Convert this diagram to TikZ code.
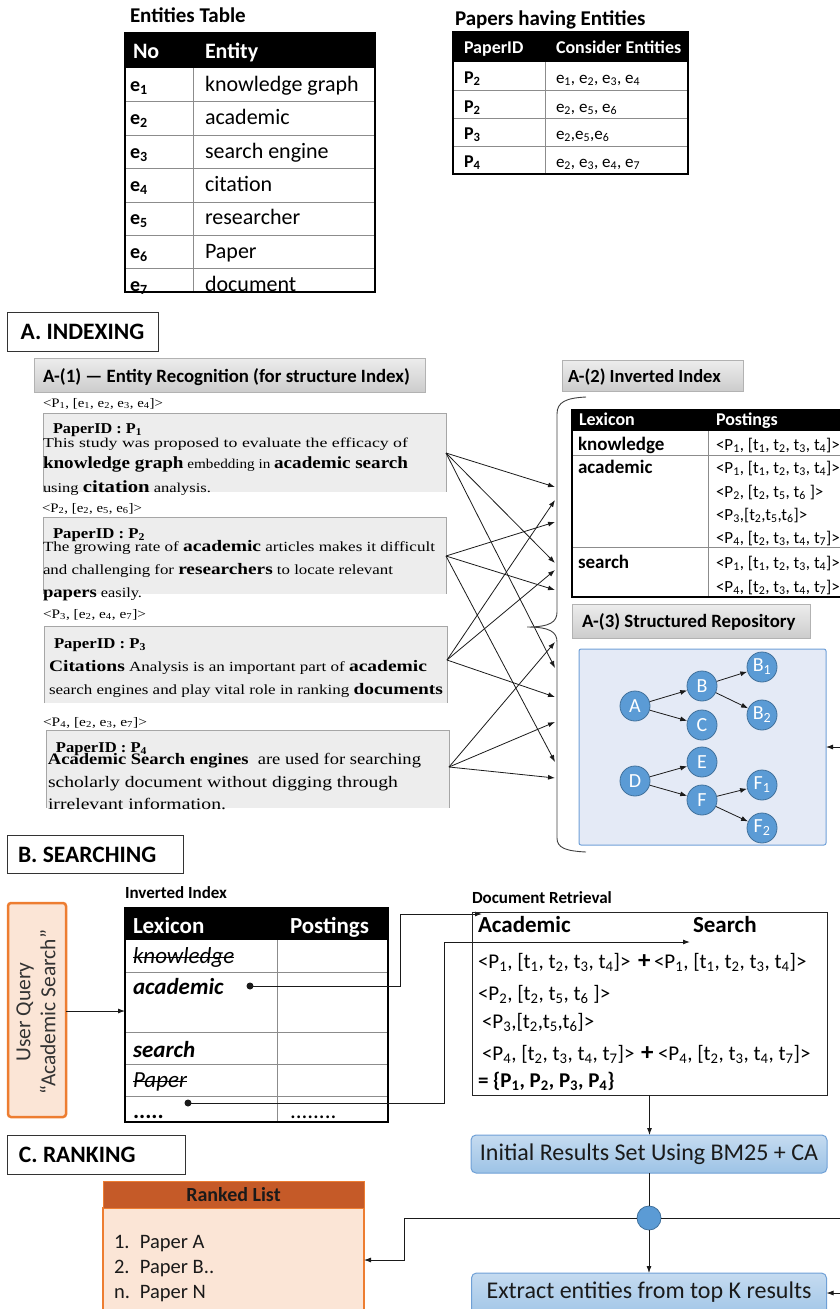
\documentclass[tikz,border=0pt]{standalone}
\usepackage{graphicx}
\usepackage{fontspec}
\setmainfont{Carlito}
\newfontfamily\pf{Liberation Serif}
\usetikzlibrary{arrows.meta,calc}
\newcommand\sbs[1]{\textsubscript{#1}}
\newcommand\fitw[2]{\resizebox{#1pt}{\height}{#2}}
\newcommand\fs[1]{\fontsize{#1}{#1}\selectfont}
\definecolor{tgray}{HTML}{8C8C8C}
\definecolor{pbox}{HTML}{EDEDED}
\definecolor{pedge}{HTML}{A6A6A6}
\definecolor{repofill}{HTML}{E4EAF6}
\definecolor{repoedge}{HTML}{6FA0D8}
\definecolor{nodefill}{HTML}{5B9BD5}
\definecolor{nodeedge}{HTML}{41719C}
\definecolor{orfill}{HTML}{FBE5D6}
\definecolor{oredge}{HTML}{ED7D31}
\definecolor{orhead}{HTML}{C55A28}
\definecolor{blutop}{HTML}{C5DBF0}
\definecolor{blubot}{HTML}{9DC3E6}
\definecolor{bluedge}{HTML}{6FA0D6}
\definecolor{ink}{HTML}{1A1A1A}
\begin{document}
\begin{tikzpicture}[x=1pt,y=-1pt,
  txt/.style={anchor=base west,inner sep=0pt,outer sep=0pt},
  rect/.style={inner sep=0pt,outer sep=0pt},
  ghead/.style={rect,draw=gray!60,top color=gray!14,bottom color=gray!40},
  secbox/.style={rect,draw=black!80,line width=1pt,fill=white},
  arr/.style={-{Latex[length=7pt,width=5pt]},line width=0.8pt,draw=ink},
  plainln/.style={line width=0.8pt,draw=ink},
  tnode/.style={circle,minimum size=30pt,inner sep=0pt,fill=nodefill,draw=nodeedge,line width=0.8pt,text=white,font=\fs{20}},
  pline/.style={txt,font=\pf\fs{13.5}},
  innerln/.style={tgray,line width=0.8pt},
  outerln/.style={black,line width=1.3pt},
  gbox/.style={rect,rounded corners=5pt,top color=blutop,bottom color=blubot,draw=bluedge,line width=1pt},
]
\useasboundingbox (0,0) rectangle (839,1309);

%% ---------------- Entities table
\node[txt,font=\bfseries\fs{21}] (etitle) at (130,23) {Entities Table};
\node[rect,fill=white,minimum width=250pt,minimum height=259pt] (etab) at (250,162.5) {};
\fill[black] (etab.north west) rectangle (375,68);
\foreach \yy in {101,135,168,202,235,268} \draw[innerln] (125,\yy) -- (375,\yy);
\draw[innerln] (193,68) -- (193,292);
\draw[outerln] (etab.north west) rectangle (etab.south east);
\node[txt,text=white,font=\bfseries\fs{22}] (eh1) at (133,58) {No};
\node[txt,text=white,font=\bfseries\fs{22}] (eh2) at (205,58) {Entity};
\foreach \i/\yy/\nm in {1/91/knowledge graph,2/124/academic,3/158/search engine,4/191/citation,5/224/researcher,6/258/Paper,7/291/document}{
  \node[txt,font=\bfseries\fs{20}] (eid\i) at (130,\yy) {e\sbs{\i}};
  \node[txt,font=\fs{22}] (enm\i) at (205,\yy) {\nm};
}

%% ---------------- Papers table
\node[txt,font=\bfseries\fs{21}] (ptitle) at (455,25) {Papers having Entities};
\node[rect,fill=white,minimum width=235pt,minimum height=142pt] (ptab) at (570.5,103) {};
\fill[black] (ptab.north west) rectangle (688,62);
\foreach \yy in {90,118,146} \draw[innerln] (453,\yy) -- (688,\yy);
\draw[innerln] (545,62) -- (545,174);
\draw[outerln] (ptab.north west) rectangle (ptab.south east);
\node[txt,text=white,font=\bfseries\fs{18}] (ph1) at (464,53) {PaperID};
\node[txt,text=white,font=\bfseries\fs{18}] (ph2) at (556,53) {Consider Entities};
\foreach \i/\yy/\p/\es in {1/83/2/{e\sbs{1}, e\sbs{2}, e\sbs{3}, e\sbs{4}},2/112/2/{e\sbs{2}, e\sbs{5}, e\sbs{6}},3/139/3/{e\sbs{2},e\sbs{5},e\sbs{6}},4/167/4/{e\sbs{2}, e\sbs{3}, e\sbs{4}, e\sbs{7}}}{
  \node[txt,font=\bfseries\fs{18}] (pid\i) at (464,\yy) {P\sbs{\p}};
  \node[txt,font=\fs{17}] (pes\i) at (556,\yy) {\es};
}

%% ---------------- A. Indexing
\node[secbox,minimum width=151pt,minimum height=39pt,font=\bfseries\fs{23.5}] (secA) at (82.5,331.5) {A. INDEXING};
\node[ghead,minimum width=391pt,minimum height=34pt] (a1h) at (229.5,375) {};
\node[txt,font=\bfseries\fs{18.8}] (a1t) at (43,382) {A-(1) — Entity Recognition (for structure Index)};

% paper boxes
\foreach \n/\l/\t/\r/\b in {p1/43/413/446/492,p2/43/517/446/594,p3/44/626/447/703,p4/46/730/449/808}{
  \node[rect,fill=pbox,minimum width=\r-\l,minimum height=\b-\t] (\n) at ({(\l+\r)/2},{(\t+\b)/2}) {};
  \draw[pedge,line width=1pt] (\n.south west) -- (\n.north west) -- (\n.north east) -- (\n.south east);
}
% labels
\node[txt,font=\pf\fs{13}] (l1) at (43,407) {\fitw{120}{<P\sbs{1}, [e\sbs{1}, e\sbs{2}, e\sbs{3}, e\sbs{4}]>}};
\node[txt,font=\pf\fs{13}] (l2) at (42,512) {\fitw{100}{<P\sbs{2}, [e\sbs{2}, e\sbs{5}, e\sbs{6}]>}};
\node[txt,font=\pf\fs{13}] (l3) at (43,618) {\fitw{103}{<P\sbs{3}, [e\sbs{2}, e\sbs{4}, e\sbs{7}]>}};
\node[txt,font=\pf\fs{13}] (l4) at (43,726) {\fitw{104}{<P\sbs{4}, [e\sbs{2}, e\sbs{3}, e\sbs{7}]>}};
% P1
\node[txt,font=\pf\bfseries\fs{15}] (p1id) at (53,433) {\fitw{89}{PaperID : P\sbs{1}}};
\node[pline] (p1a) at (43,447.5) {\fitw{365}{This study was proposed to evaluate the efficacy of}};
\node[pline] (p1b) at (43,468) {\fitw{365}{\textbf{\fs{17}knowledge graph} embedding in \textbf{\fs{17}academic search}}};
\node[pline] (p1c) at (43,492) {\fitw{168}{using \textbf{\fs{17}citation} analysis.}};
% P2
\node[txt,font=\pf\bfseries\fs{15}] (p2id) at (53,538) {\fitw{92}{PaperID : P\sbs{2}}};
\node[pline,font=\pf\fs{14}] (p2a) at (43,551) {\fitw{392}{The growing rate of \textbf{\fs{16}academic} articles makes it difficult}};
\node[pline,font=\pf\fs{14}] (p2b) at (43,574) {\fitw{350}{and challenging for \textbf{\fs{16}researchers} to locate relevant}};
\node[pline,font=\pf\fs{14}] (p2c) at (43,597) {\fitw{99}{\textbf{\fs{16}papers} easily.}};
% P3
\node[txt,font=\pf\bfseries\fs{15}] (p3id) at (54,648) {\fitw{92}{PaperID : P\sbs{3}}};
\node[pline,font=\pf\fs{14}] (p3a) at (49,671) {\fitw{378}{\textbf{\fs{16}Citations} Analysis is an important part of \textbf{\fs{16}academic}}};
\node[pline,font=\pf\fs{14}] (p3b) at (49,694) {\fitw{394}{search engines and play vital role in ranking \textbf{\fs{16}documents}}};
% P4
\node[txt,font=\pf\bfseries\fs{15}] (p4id) at (56,752) {\fitw{91}{PaperID : P\sbs{4}}};
\node[pline,font=\pf\fs{16}] (p4a) at (48,764) {\fitw{373}{\textbf{Academic Search engines}\ \ are used for searching}};
\node[pline,font=\pf\fs{16}] (p4b) at (48,787) {\fitw{350}{scholarly document without digging through}};
\node[pline,font=\pf\fs{16}] (p4c) at (48,809) {\fitw{178}{irrelevant information.}};

% crossing arrows
\coordinate (s1) at (446,453);
\coordinate (s2) at (446,556);
\coordinate (s3) at (447,660);
\coordinate (s4) at (449,767);
\foreach \k/\yy in {1/487,2/500,3/522,4/563,5/570,6/590,7/642,8/668,9/697,10/722,11/762,12/778}
  \coordinate (t\k) at (555,\yy);
\foreach \s/\t in {s1/t1,s1/t4,s1/t8,s2/t3,s2/t6,s2/t11,s3/t2,s3/t5,s3/t9,s4/t7,s4/t10,s4/t12}
  \draw[arr] (\s) -- (\t);

% brace
\draw[black!75,line width=0.9pt] (586,397) .. controls (566,398) and (557,402) .. (557,414) -- (557,612)
  .. controls (557,622) and (550,627) .. (527,627)
  .. controls (550,627) and (557,632) .. (557,642) -- (557,838)
  .. controls (557,848) and (566,851) .. (586,852);

%% A-(2)
\node[ghead,minimum width=181pt,minimum height=31pt] (a2h) at (652.5,375.5) {};
\node[txt,font=\bfseries\fs{18.5}] (a2t) at (568,382) {A-(2) Inverted Index};
\node[rect,fill=white,minimum width=273pt,minimum height=187pt] (itab) at (708.5,503.5) {};
\fill[black] (itab.north west) rectangle (845,431);
\foreach \yy in {455,547} \draw[innerln] (572,\yy) -- (845,\yy);
\draw[innerln] (708,431) -- (708,597);
\draw[outerln] (itab.north west) rectangle (itab.south east);
\node[txt,text=white,font=\bfseries\fs{18}] (ih1) at (579,425.5) {Lexicon};
\node[txt,text=white,font=\bfseries\fs{18}] (ih2) at (716,425.5) {Postings};
\node[txt,font=\bfseries\fs{19}] (ik) at (578,450) {knowledge};
\node[txt,font=\bfseries\fs{19}] (ia) at (578,473) {academic};
\node[txt,font=\bfseries\fs{19}] (is) at (578,568) {search};
\foreach \i/\yy/\pp in {1/450/{<P\sbs{1}, [t\sbs{1}, t\sbs{2}, t\sbs{3}, t\sbs{4}]>},2/473/{<P\sbs{1}, [t\sbs{1}, t\sbs{2}, t\sbs{3}, t\sbs{4}]>},3/497/{<P\sbs{2}, [t\sbs{2}, t\sbs{5}, t\sbs{6} ]>},4/520/{<P\sbs{3},[t\sbs{2},t\sbs{5},t\sbs{6}]>},5/543/{<P\sbs{4}, [t\sbs{2}, t\sbs{3}, t\sbs{4}, t\sbs{7}]>},6/568/{<P\sbs{1}, [t\sbs{1}, t\sbs{2}, t\sbs{3}, t\sbs{4}]>},7/592/{<P\sbs{4}, [t\sbs{2}, t\sbs{3}, t\sbs{4}, t\sbs{7}]>}}
  \node[txt,font=\fs{17}] (ip\i) at (716,\yy) {\pp};

%% A-(3)
\node[ghead,minimum width=238pt,minimum height=34pt] (a3h) at (691,621) {};
\node[txt,font=\bfseries\fs{18.8}] (a3t) at (582,627) {A-(3) Structured Repository};
\node[rect,fill=repofill,draw=repoedge,line width=1pt,rounded corners=2pt,minimum width=247pt,minimum height=196pt] (repo) at (702.5,747) {};
\node[tnode] (nA) at (635,706) {A};
\node[tnode] (nB) at (702,686) {B};
\node[tnode] (nC) at (702,725) {C};
\node[tnode] (nB1) at (762,667) {B\sbs{1}};
\node[tnode] (nB2) at (762,715) {B\sbs{2}};
\node[tnode] (nD) at (635,781) {D};
\node[tnode] (nE) at (702,762) {E};
\node[tnode] (nF) at (702,800) {F};
\node[tnode] (nF1) at (762,785) {F\sbs{1}};
\node[tnode] (nF2) at (762,828) {F\sbs{2}};
\foreach \a/\b in {nA/nB,nA/nC,nB/nB1,nB/nB2,nD/nE,nD/nF,nF/nF1,nF/nF2}
  \draw[arr] (\a) -- (\b);
\coordinate (rR) at (845,747);
\draw[arr] (rR) -- (repo.east);

%% ---------------- B. Searching
\node[secbox,minimum width=176pt,minimum height=38pt] (secB) at (95,854) {};
\node[txt,font=\bfseries\fs{23.5}] (secBt) at (18,862) {B. SEARCHING};
\node[txt,font=\bfseries\fs{17}] (iit) at (125,898) {Inverted Index};
\node[rect,fill=orfill,draw=oredge,line width=2.5pt,rounded corners=3pt,minimum width=58pt,minimum height=214pt] (uq) at (37,1010) {};
\node[rotate=90,align=center,font=\fontsize{21.5}{25}\selectfont,text=black!80] (uqt) at (36,1012) {User Query\\“Academic Search”};

\node[rect,fill=white,minimum width=263pt,minimum height=214pt] (stab) at (256.5,1015) {};
\fill[black] (stab.north west) rectangle (388,940);
\foreach \yy in {972,1032,1064,1096} \draw[innerln] (125,\yy) -- (388,\yy);
\draw[innerln] (277,940) -- (277,1122);
\draw[outerln] (stab.north west) rectangle (stab.south east);
\node[txt,text=white,font=\bfseries\fs{23}] (sh1) at (133,933) {Lexicon};
\node[txt,text=white,font=\bfseries\fs{23}] (sh2) at (290,933) {Postings};
\node[txt,font=\itshape\fs{23}] (sk) at (133,963) {knowledge};
\draw[line width=1pt] ($(sk.base west)+(0,-6)$) -- ($(sk.base east)+(0,-6)$);
\node[txt,font=\bfseries\itshape\fs{23}] (sa) at (133,994) {academic};
\node[txt,font=\bfseries\itshape\fs{23}] (ss) at (133,1057) {search};
\node[txt,font=\itshape\fs{23}] (sp) at (133,1087) {Paper};
\draw[line width=1pt] ($(sp.base west)+(0,-6)$) -- ($(sp.base east)+(0,-6)$);
\node[txt,font=\bfseries\fs{23}] (sd1) at (133,1118) {.....};
\node[txt,font=\fs{23}] (sd2) at (290,1118) {........};
\draw[arr] (uq.east |- 0,1011) -- (stab.west |- 0,1011);

\coordinate (dA) at (250,986);
\coordinate (dD) at (188,1103);
\fill[ink] (dA) circle[radius=3.5pt];
\fill[ink] (dD) circle[radius=3.5pt];
\coordinate (acadIn) at (482,914);
\coordinate (searchIn) at (690,942);
\draw[arr,line width=1pt] (dA) -- (400,986) |- (acadIn);
\draw[arr,line width=1pt] (dD) -- (444,1103) |- (searchIn);

% Document retrieval
\node[txt,font=\bfseries\fs{17}] (drt) at (472,903) {Document Retrieval};
\node[rect,draw=black!85,line width=1pt,minimum width=355pt,minimum height=183pt] (doc) at (649.5,1003.5) {};
\node[txt,font=\bfseries\fs{23}] (dac) at (478,932) {Academic};
\node[txt,font=\bfseries\fs{23}] (dse) at (693,932) {Search};
\node[txt,font=\fs{21}] (dr1a) at (478,968) {<P\sbs{1}, [t\sbs{1}, t\sbs{2}, t\sbs{3}, t\sbs{4}]>};
\node[txt,font=\bfseries\fs{25}] (dr1p) at (638,968) {+};
\node[txt,font=\fs{21}] (dr1b) at (654,968) {<P\sbs{1}, [t\sbs{1}, t\sbs{2}, t\sbs{3}, t\sbs{4}]>};
\node[txt,font=\fs{21}] (dr2) at (478,1000) {<P\sbs{2}, [t\sbs{2}, t\sbs{5}, t\sbs{6} ]>};
\node[txt,font=\fs{21}] (dr3) at (482,1028) {<P\sbs{3},[t\sbs{2},t\sbs{5},t\sbs{6}]>};
\node[txt,font=\fs{21}] (dr4a) at (482,1060) {<P\sbs{4}, [t\sbs{2}, t\sbs{3}, t\sbs{4}, t\sbs{7}]>};
\node[txt,font=\bfseries\fs{25}] (dr4p) at (641,1060) {+};
\node[txt,font=\fs{21}] (dr4b) at (658,1060) {<P\sbs{4}, [t\sbs{2}, t\sbs{3}, t\sbs{4}, t\sbs{7}]>};
\node[txt,font=\bfseries\fs{21}] (dr5) at (478,1087) {= \{P\sbs{1}, P\sbs{2}, P\sbs{3}, P\sbs{4}\}};

%% ---------------- C. Ranking
\node[secbox,minimum width=178pt,minimum height=39pt] (secC) at (96,1154.5) {};
\node[txt,font=\bfseries\fs{23.5}] (secCt) at (19,1162) {C. RANKING};
\node[gbox,minimum width=356pt,minimum height=38pt,font=\fs{24},text=ink] (init) at (649,1154) {Initial Results Set Using BM25 + CA};
\draw[arr] (doc.south) -- (doc.south |- init.north);
\node[circle,fill=nodefill,draw=nodeedge,line width=0.8pt,minimum size=24pt,inner sep=0pt] (jn) at (649,1218) {};
\node[gbox,minimum width=355pt,minimum height=47pt] (ext) at (649,1296.5) {};
\node[font=\fs{24},text=ink,inner sep=0pt] (extt) at (649,1292) {Extract entities from top K results};
\draw[plainln] (init.south) -- (jn.north);
\draw[arr] (jn.south) -- (ext.north);
\coordinate (jR) at (845,1218);
\draw[plainln] (jn.east) -- (jR);
\coordinate (eR) at (845,1293);
\draw[arr] (eR) -- (eR -| ext.east);

\node[rect,fill=orfill,draw=oredge,line width=1.5pt,minimum width=261pt,minimum height=112pt] (rlb) at (233.5,1264) {};
\node[rect,fill=orhead,draw=oredge,line width=1pt,minimum width=261pt,minimum height=27pt,font=\bfseries\fs{20},text=ink] (rlh) at (233.5,1194.5) {Ranked List};
\node[txt,font=\fs{20.5},text=ink] (rl1) at (114,1248) {\makebox[26pt][l]{1.}Paper A};
\node[txt,font=\fs{20.5},text=ink] (rl2) at (114,1273) {\makebox[26pt][l]{2.}Paper B..};
\node[txt,font=\fs{20.5},text=ink] (rl3) at (114,1298) {\makebox[26pt][l]{n.}Paper N};
\coordinate (rlIn) at (364,1260);
\draw[arr] (jn.west) -- (404,1218) |- (rlIn);
\end{tikzpicture}
\end{document}
